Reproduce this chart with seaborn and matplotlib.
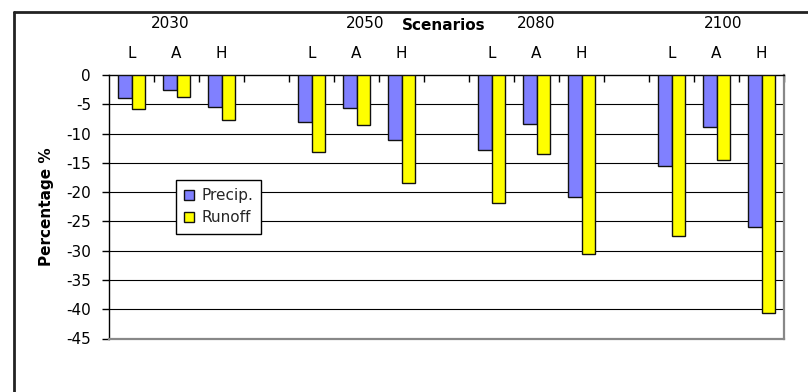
import matplotlib
matplotlib.use("Agg")
import matplotlib.pyplot as plt
from matplotlib.lines import Line2D
from matplotlib.patches import Patch
import pandas as pd
import seaborn as sns

# Scenario data: percentage change per period and emission scenario
years = ["2030", "2050", "2080", "2100"]
scenarios = ["L", "A", "H"]
precip = [-3.9, -2.6, -5.4,
          -8.1, -5.6, -11.1,
          -12.8, -8.4, -20.9,
          -15.6, -8.9, -26.0]
runoff = [-5.8, -3.7, -7.7,
          -13.1, -8.6, -18.4,
          -21.9, -13.5, -30.5,
          -27.5, -14.6, -40.6]
series_names = ["Precip.", "Runoff"]
series_colors = ["#8080FF", "#FFFF00"]
yticks = [0, -5, -10, -15, -20, -25, -30, -35, -40, -45]

sns.set_theme(style="white")
plt.rcParams["font.family"] = ["DejaVu Sans"]
FS = 11

# Category order with an empty slot between periods
order = []
for yi, y in enumerate(years):
    for s in scenarios:
        order.append(f"{y} {s}")
    if yi < len(years) - 1:
        order.append("gap" + str(yi))

rows = []
i = 0
for y in years:
    for s in scenarios:
        cat = f"{y} {s}"
        rows.append({"cat": cat, "series": series_names[0], "value": precip[i]})
        rows.append({"cat": cat, "series": series_names[1], "value": runoff[i]})
        i += 1
df = pd.DataFrame(rows)

fig = plt.figure(figsize=(8.08, 3.92), dpi=100)
ax = fig.add_axes([109 / 808, 1 - 338.5 / 392, 675 / 808, 263.5 / 392])

sns.barplot(data=df, x="cat", y="value", hue="series", order=order,
            hue_order=series_names, palette=series_colors, width=0.6,
            edgecolor="#111111", linewidth=1.0, saturation=1, ax=ax,
            legend=False, zorder=3)

n = len(order)
ax.set_xlim(-0.5, n - 0.5)
ax.set_ylim(-45, 0)
ax.set_xlabel("")
ax.set_ylabel("")

# Horizontal gridlines
for v in yticks[1:-1]:
    ax.axhline(v, color="#000000", lw=0.8, zorder=1)

# Y axis
ax.set_yticks(yticks)
ax.set_yticklabels([str(v) for v in yticks], fontsize=FS, color="black")
ax.tick_params(axis="y", direction="out", length=5, width=1, color="black",
               pad=8, left=True)

# X axis on top: scenario letters at centres, ticks at category boundaries
ax.xaxis.tick_top()
centers = list(range(n))
labels = [c.split(" ")[1] if not c.startswith("gap") else "" for c in order]
ax.set_xticks(centers)
ax.set_xticklabels(labels, fontsize=FS, color="black")
ax.tick_params(axis="x", which="major", length=0, pad=10, top=True)
ax.set_xticks([c + 0.5 for c in range(n)], minor=True)
ax.tick_params(axis="x", which="minor", direction="in", length=5, width=1,
               color="black", top=True, bottom=False)

for side in ["left", "top"]:
    ax.spines[side].set_color("black")
    ax.spines[side].set_linewidth(1.0)
for side in ["right", "bottom"]:
    ax.spines[side].set_color("#888888")
    ax.spines[side].set_linewidth(1.6)

# Period labels above the scenario letters
year_offsets = [-0.15, 0.2, 0.0, 0.15]
for yi, y in enumerate(years):
    xc = order.index(f"{y} A") + year_offsets[yi]
    ax.text(xc, 1 + 51 / 263.5, y, transform=ax.get_xaxis_transform(),
            ha="center", va="center", fontsize=FS, color="black")

fig.text(444 / 808, 1 - 26 / 392, "Scenarios", ha="center", va="center",
         fontsize=FS, fontweight="bold", color="black")
fig.text(46 / 808, 1 - 206.5 / 392, "Percentage %", ha="center", va="center",
         rotation=90, fontsize=FS, fontweight="bold", color="black")

handles = [Patch(facecolor=c, edgecolor="#111111", linewidth=1.0, label=nm)
           for c, nm in zip(series_colors, series_names)]
leg = fig.legend(handles=handles, loc="upper left",
                 bbox_to_anchor=(176 / 808, 1 - 180 / 392),
                 fontsize=FS, frameon=True, fancybox=False, framealpha=1,
                 edgecolor="black", handlelength=0.6, handleheight=0.6,
                 handletextpad=0.5, borderpad=0.55, labelspacing=0.45,
                 borderaxespad=0)
leg.get_frame().set_linewidth(1.0)

# Outer chart frame
fig.add_artist(Line2D([14 / 808, 14 / 808], [0, 1 - 12 / 392],
                      transform=fig.transFigure, color="#222222", lw=2))
fig.add_artist(Line2D([14 / 808, 1], [1 - 12 / 392, 1 - 12 / 392],
                      transform=fig.transFigure, color="#222222", lw=2))

fig.savefig("out.png", dpi=100, facecolor="white")
